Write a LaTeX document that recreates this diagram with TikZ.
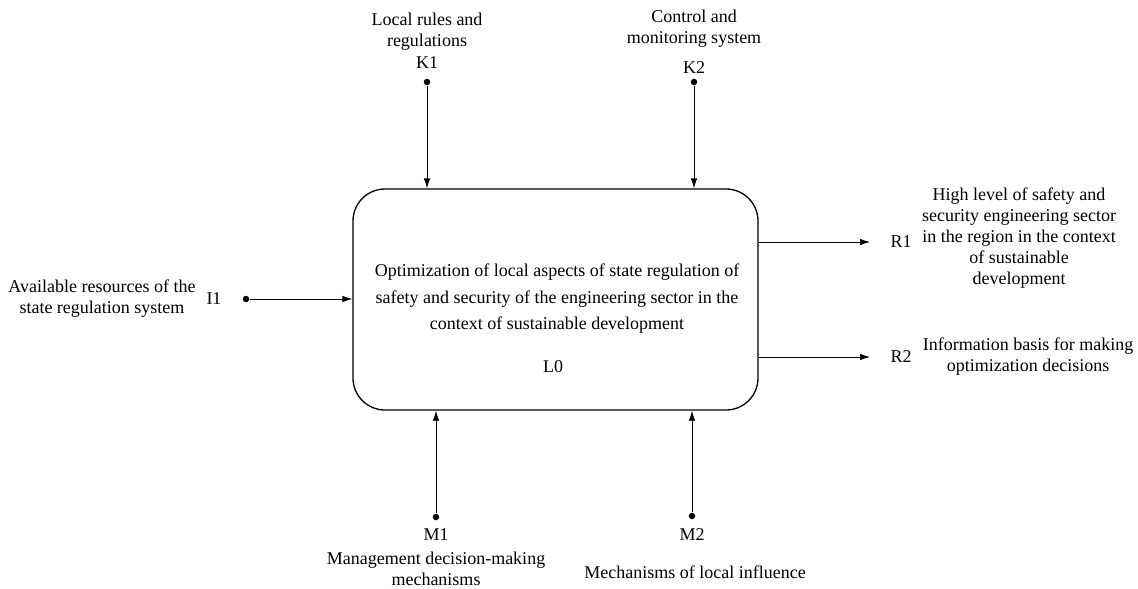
\documentclass[tikz,border=0pt]{standalone}
\usepackage{fontspec}
\setmainfont{Liberation Serif}
\usetikzlibrary{arrows.meta}

\begin{document}
\begin{tikzpicture}[->,>={Latex[length=10pt,width=6.5pt]},x=1pt,y=-1pt,line width=0.8pt]
\tikzstyle{every node} = [font = \fontsize{18}{21}\selectfont, inner sep=0pt, align=center]
\tikzstyle{tail} = [circle, fill, minimum size=6.5pt]
\useasboundingbox (0,0) rectangle (1138,589);
	% function block
	\node [draw, rounded corners=32pt, line width=1.3pt, minimum width=405pt, minimum height=221pt] (box) at (555.5,299.5) {};
	\node [font=\fontsize{18}{26.5}\selectfont] (func) at (557,299) {Optimization of local aspects of state regulation of\\
		safety and security of the engineering sector in the\\
		context of sustainable development};
	\node (L0) at (553,367) {L0};
	% controls
	\node [tail] (k1tail) at (427,82) {};
	\node (K1) at (427,63) {K1};
	\node (k1text) at (427,32) {Local rules and\\regulations};
	\node [tail] (k2tail) at (694,82) {};
	\node (K2) at (694,68) {K2};
	\node (k2text) at (694,29) {Control and\\monitoring system};
	\draw (k1tail) -- (k1tail |- box.north);
	\draw (k2tail) -- (k2tail |- box.north);
	% input
	\node [tail] (i1tail) at (246,299) {};
	\node (I1) at (214,299) {I1};
	\node (i1text) at (102,299) {Available resources of the\\state regulation system};
	\draw (i1tail) -- (i1tail -| box.west);
	% outputs
	\coordinate (r1end) at (870,242);
	\coordinate (r2end) at (870,357);
	\draw (r1end -| box.east) -- (r1end);
	\draw (r2end -| box.east) -- (r2end);
	\node (R1) at (901,242) {R1};
	\node (r1text) at (1019,238) {High level of safety and\\security engineering sector\\in the region in the context\\of sustainable\\development};
	\node (R2) at (901,357) {R2};
	\node (r2text) at (1028,357) {Information basis for making\\optimization decisions};
	% mechanisms
	\node [tail] (m1tail) at (436,517) {};
	\node (M1) at (436,535) {M1};
	\node (m1text) at (436,569) {Management decision-making\\mechanisms};
	\node [tail] (m2tail) at (692,516) {};
	\node (M2) at (692,535) {M2};
	\node (m2text) at (695,572) {Mechanisms of local influence};
	\draw (m1tail) -- (m1tail |- box.south);
	\draw (m2tail) -- (m2tail |- box.south);
\end{tikzpicture}
\end{document}
